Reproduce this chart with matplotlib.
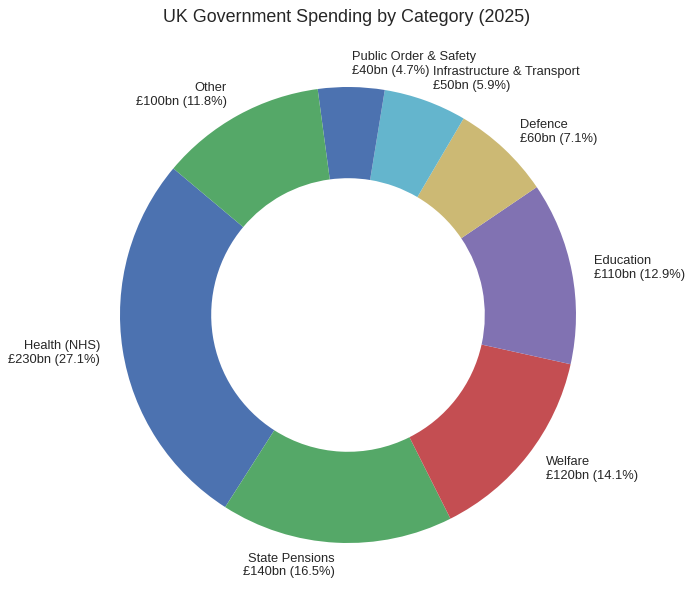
import matplotlib
matplotlib.use('Agg')
import matplotlib.pyplot as plt

# spending data (GBP billions)
categories = ['Health (NHS)', 'State Pensions', 'Welfare', 'Education',
              'Defence', 'Infrastructure & Transport', 'Public Order & Safety', 'Other']
spending = [230, 140, 120, 110, 60, 50, 40, 100]

plt.style.use('seaborn-v0_8')
plt.rcParams['font.family'] = ['Liberation Sans', 'DejaVu Sans']

total = sum(spending)
labels = [f"{c}\n£{v}bn ({v / total * 100:.1f}%)" for c, v in zip(categories, spending)]

fig = plt.figure(figsize=(6.93, 6.0), dpi=100)
fig.patch.set_facecolor('white')
ax = fig.add_axes([0.0909, 0.0, 0.8225, 0.95])

wedges, texts = ax.pie(spending, labels=labels, startangle=140,
                       wedgeprops=dict(width=0.4),
                       textprops=dict(fontsize=9.25, color='.15'))
ax.set_aspect('equal')

fig.text(0.5, 0.97, 'UK Government Spending by Category (2025)',
         ha='center', va='center', fontsize=12.9, color='.15')

fig.savefig('out.png', dpi=100, facecolor='white')
